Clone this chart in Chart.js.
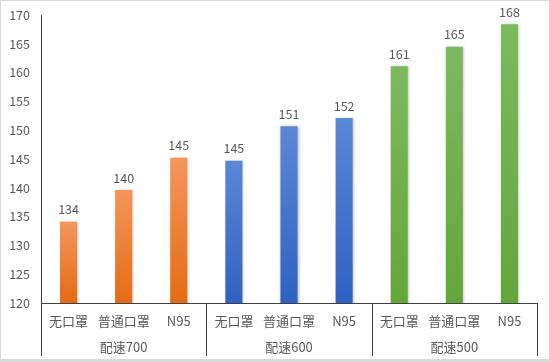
<!DOCTYPE html>
<html>
<head>
<meta charset="utf-8">
<script src="https://cdn.jsdelivr.net/npm/chart.js@4.4.1/dist/chart.umd.min.js"></script>
<style>
  html, body { margin: 0; padding: 0; background: #fff; }
  #wrap {
    width: 550px; height: 362px; box-sizing: border-box;
    border: 1px solid #d9d9d9; border-bottom-width: 3px;
  }
  canvas { display: block; }
</style>
</head>
<body>
<div id="wrap"><canvas id="chart" width="548" height="358"></canvas></div>
<script>
// categories: mask type inside each pace group
const maskTypes = ['无口罩', '普通口罩', 'N95'];
const paceGroups = ['配速700', '配速600', '配速500'];
// heart rate values
const pace700 = [134.1, 139.6, 145.2];
const pace600 = [144.7, 150.7, 152.1];
const pace500 = [161.1, 164.5, 168.4];
const shownLabels = [134, 140, 145, 145, 151, 152, 161, 165, 168];
const yTicks = [120, 125, 130, 135, 140, 145, 150, 155, 160, 165, 170];

const labels = [...maskTypes, ...maskTypes, ...maskTypes];
const values = [...pace700, ...pace600, ...pace500];

// top / bottom colour per group
const groupColors = [
  ['#f4955c', '#e46c12'],
  ['#5b87d6', '#2f62c1'],
  ['#7db95f', '#64a639']
];

const FONT = '"Noto Sans CJK SC", "Noto Sans", sans-serif';
const TEXT = '#595959';
const AXIS = '#404040';

function barGradient(ctx) {
  const chart = ctx.chart;
  const area = chart.chartArea;
  const colors = groupColors[Math.floor(ctx.dataIndex / 3)];
  if (!area) return colors[1];
  const top = chart.scales.y.getPixelForValue(values[ctx.dataIndex]);
  const g = chart.ctx.createLinearGradient(0, top, 0, area.bottom);
  g.addColorStop(0, colors[0]);
  g.addColorStop(1, colors[1]);
  return g;
}

// soft shadow under the bars
const barShadow = {
  id: 'barShadow',
  beforeDatasetsDraw(chart) {
    const c = chart.ctx;
    c.save();
    c.shadowColor = 'rgba(0,0,0,0.28)';
    c.shadowBlur = 3;
    c.shadowOffsetX = 1;
  },
  afterDatasetsDraw(chart) {
    chart.ctx.restore();
  }
};

// value labels above bars
const valueLabels = {
  id: 'valueLabels',
  afterDatasetsDraw(chart) {
    const c = chart.ctx;
    const meta = chart.getDatasetMeta(0);
    c.save();
    c.font = '12.5px ' + FONT;
    c.fillStyle = TEXT;
    c.textAlign = 'center';
    c.textBaseline = 'bottom';
    meta.data.forEach((bar, i) => {
      c.fillText(String(shownLabels[i]), bar.x, bar.y - 6);
    });
    c.restore();
  }
};

// second level of the x axis: group names and separators
const groupAxis = {
  id: 'groupAxis',
  afterDraw(chart) {
    const c = chart.ctx;
    const x = chart.scales.x;
    const area = chart.chartArea;
    const step = x.getPixelForValue(1) - x.getPixelForValue(0);
    c.save();
    c.strokeStyle = AXIS;
    c.lineWidth = 1;
    for (let k = 0; k <= paceGroups.length; k++) {
      const px = Math.round(x.getPixelForValue(k * 3) - step / 2) + 0.5;
      c.beginPath();
      c.moveTo(px, area.bottom);
      c.lineTo(px, area.bottom + 53);
      c.stroke();
    }
    c.font = '13px ' + FONT;
    c.fillStyle = TEXT;
    c.textAlign = 'center';
    c.textBaseline = 'middle';
    paceGroups.forEach((name, k) => {
      const cx = x.getPixelForValue(k * 3 + 1);
      c.fillText(name, cx, area.bottom + 44);
    });
    c.restore();
  }
};

new Chart(document.getElementById('chart'), {
  type: 'bar',
  data: {
    labels: labels,
    datasets: [{
      data: values,
      backgroundColor: barGradient,
      barPercentage: 0.62,
      categoryPercentage: 0.5
    }]
  },
  options: {
    responsive: false,
    animation: false,
    layout: { padding: { top: 14, right: 12, left: 0, bottom: 0 } },
    plugins: {
      legend: { display: false },
      tooltip: { enabled: false }
    },
    scales: {
      x: {
        grid: { display: false, drawTicks: false },
        border: { display: true, color: AXIS, width: 1 },
        ticks: {
          padding: 10,
          color: TEXT,
          font: { family: FONT, size: 13 },
          maxRotation: 0,
          autoSkip: false
        },
        afterFit(scale) {
          scale.height = 56;
          scale.paddingLeft = 0;
          scale.paddingRight = 0;
        }
      },
      y: {
        min: 120,
        max: 170,
        grid: { display: false, drawTicks: false },
        border: { display: true, color: AXIS, width: 1 },
        afterBuildTicks(scale) { scale.ticks = yTicks.map(v => ({ value: v })); },
        ticks: {
          padding: 11,
          color: TEXT,
          font: { family: FONT, size: 12.5 }
        },
        afterFit(scale) {
          scale.width = 40;
          scale.paddingTop = 0;
          scale.paddingBottom = 0;
        }
      }
    }
  },
  plugins: [barShadow, valueLabels, groupAxis]
});
</script>
</body>
</html>
